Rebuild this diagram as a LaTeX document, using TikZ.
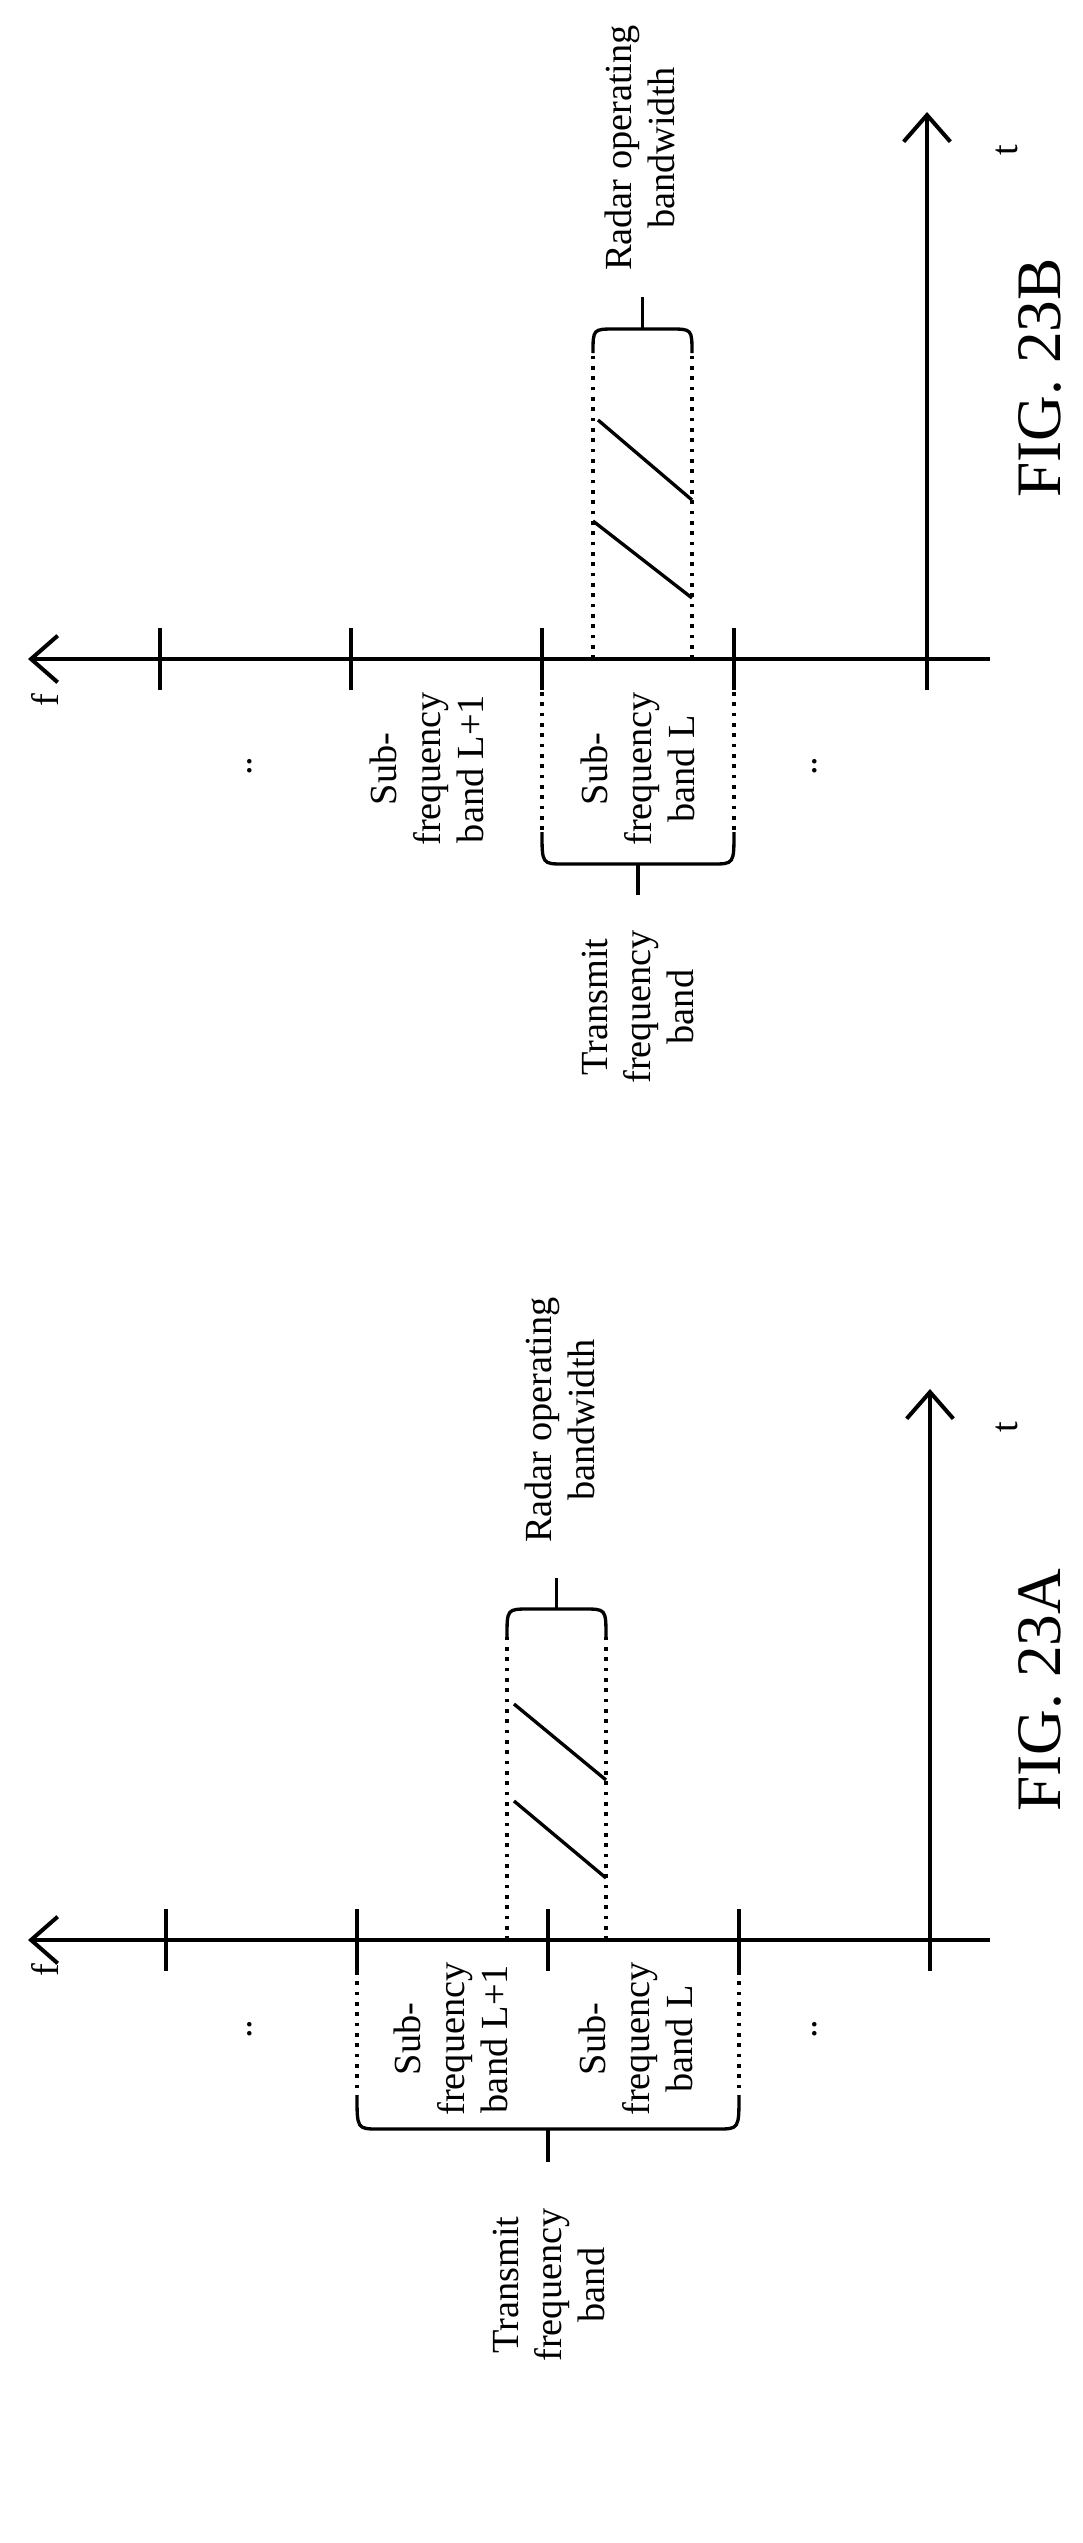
\documentclass[tikz,border=0pt]{standalone}
\usepackage{fontspec}
\setmainfont{Liberation Serif}
\usetikzlibrary{arrows.meta}

\tikzset{
  axis/.style={line width=1.2pt,-{Straight Barb[length=8pt,width=14pt]}},
  tick/.style={line width=1.2pt},
  guide/.style={line width=1.1pt,dotted},
  hatch/.style={line width=1pt},
  brace/.style={line width=1pt},
  lbl/.style={rotate=90,align=center,font=\fontsize{11.5}{13}\selectfont,inner sep=0pt},
  fig/.style={rotate=90,font=\fontsize{19}{22}\selectfont,inner sep=0pt}
}
% bracket with rounded ends and a stem at its middle
\newcommand{\bandbrace}[5]{% x1, x2, y of ends, y of bar, y of stem end
  \draw[brace] (#1,#3) .. controls (#1,#4) .. ({#1+22},#4) -- ({#2-22},#4)
    .. controls (#2,#4) .. (#2,#3);
  \draw[brace] ({(#1+#2)/2},#4) -- ({(#1+#2)/2},#5);
}

\begin{document}
\begin{tikzpicture}[x=0.3pt,y=-0.3pt]
  \useasboundingbox (0,0) rectangle (1083,2543);

  % FIG. 23B
  \draw[axis] (990,659) -- (28,659);
  \draw[axis] (927,659) -- (927,112);
  \foreach \x in {160,351,542,734,927}
    \draw[tick] (\x,628) -- (\x,690);
  \draw[guide] (593,659) -- (593,353);
  \draw[guide] (692,659) -- (692,353);
  \draw[hatch] (598,420) -- (692,500);
  \draw[hatch] (593,521) -- (692,598);
  \bandbrace{593}{692}{353}{329}{297}
  \draw[guide] (542,692) -- (542,832);
  \draw[guide] (734,692) -- (734,832);
  \bandbrace{542}{734}{832}{864}{895}
  \node[lbl] (radarB) at (640,148) {Radar operating\\bandwidth};
  \node[lbl] (txB) at (638,1007) {Transmit\\frequency\\band};
  \node[lbl] (subB1) at (427,769) {Sub-\\frequency\\band L+1};
  \node[lbl] (subB0) at (638,769) {Sub-\\frequency\\band L};
  \node[lbl] (dotsB1) at (250,766) {..};
  \node[lbl] (dotsB2) at (815,766) {..};
  \node[lbl] (fB) at (45,700) {f};
  \node[lbl] (tB) at (1007,150) {t};
  \node[fig] (figB) at (1040,378) {FIG. 23B};

  % FIG. 23A
  \draw[axis] (990,1940) -- (28,1940);
  \draw[axis] (930,1940) -- (930,1389);
  \foreach \x in {166,357,548,739,930}
    \draw[tick] (\x,1909) -- (\x,1971);
  \draw[guide] (507,1940) -- (507,1637);
  \draw[guide] (606,1940) -- (606,1637);
  \draw[hatch] (514,1704) -- (606,1780);
  \draw[hatch] (514,1801) -- (606,1878);
  \bandbrace{507}{606}{1637}{1609}{1578}
  \draw[guide] (357,1971) -- (357,2095);
  \draw[guide] (739,1971) -- (739,2095);
  \bandbrace{357}{739}{2095}{2129}{2162}
  \node[lbl] (radarA) at (560,1420) {Radar operating\\bandwidth};
  \node[lbl] (txA) at (549,2285) {Transmit\\frequency\\band};
  \node[lbl] (subA1) at (451,2039) {Sub-\\frequency\\band L+1};
  \node[lbl] (subA0) at (636,2039) {Sub-\\frequency\\band L};
  \node[lbl] (dotsA1) at (250,2029) {..};
  \node[lbl] (dotsA2) at (815,2029) {..};
  \node[lbl] (fA) at (45,1970) {f};
  \node[lbl] (tA) at (1007,1427) {t};
  \node[fig] (figA) at (1040,1690) {FIG. 23A};
\end{tikzpicture}
\end{document}
